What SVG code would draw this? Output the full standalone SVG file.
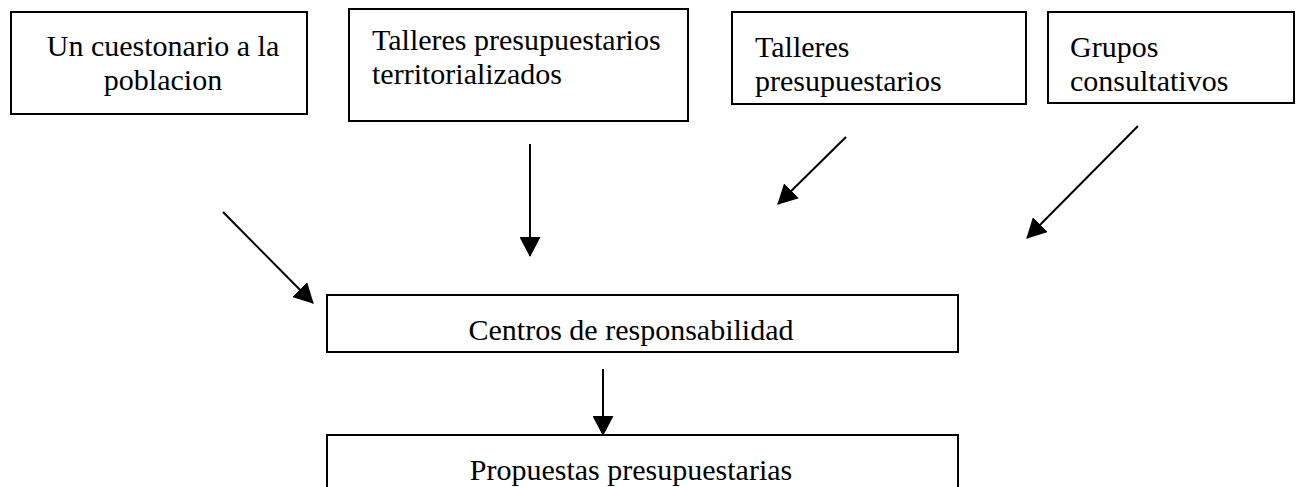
<svg xmlns="http://www.w3.org/2000/svg" width="1296" height="487" viewBox="0 0 1296 487">
<style>
.box{fill:#fff;stroke:#000;stroke-width:2}
.t{font-family:"Liberation Serif","Times New Roman",serif;font-size:30px;fill:#000}
.c{stroke:#000;stroke-width:2;fill:none;marker-end:url(#ah)}
</style>
<defs>
<marker id="ah" markerUnits="userSpaceOnUse" markerWidth="20" markerHeight="21" viewBox="0 0 20 21" refX="19" refY="10.5" orient="auto">
<path d="M0,0 L20,10.5 L0,21 Z" fill="#000"/>
</marker>
</defs>
<g id="n1"><rect class="box" x="11" y="12" width="296" height="102"/>
<text class="t" x="163" y="56" text-anchor="middle">Un cuestonario a la</text>
<text class="t" x="163" y="90" text-anchor="middle">poblacion</text></g>
<g id="n2"><rect class="box" x="349" y="9" width="339" height="112"/>
<text class="t" x="372" y="50">Talleres presupuestarios</text>
<text class="t" x="372" y="84">territorializados</text></g>
<g id="n3"><rect class="box" x="732" y="12" width="294" height="92"/>
<text class="t" x="755" y="57">Talleres</text>
<text class="t" x="755" y="91">presupuestarios</text></g>
<g id="n4"><rect class="box" x="1048" y="12" width="246" height="91"/>
<text class="t" x="1070" y="57">Grupos</text>
<text class="t" x="1070" y="91">consultativos</text></g>
<g id="n5"><rect class="box" x="327" y="295" width="631" height="57"/>
<text class="t" x="631" y="340" text-anchor="middle">Centros de responsabilidad</text></g>
<g id="n6"><rect class="box" x="327" y="435" width="631" height="70"/>
<text class="t" x="631" y="480" text-anchor="middle">Propuestas presupuestarias</text></g>
<g id="connectors">
<line class="c" x1="223" y1="212" x2="313" y2="303"/>
<line class="c" x1="530" y1="144" x2="530" y2="256"/>
<line class="c" x1="846" y1="137" x2="778" y2="204"/>
<line class="c" x1="1138" y1="126" x2="1027" y2="238"/>
<line class="c" x1="603" y1="369" x2="603" y2="435"/>
</g>
</svg>
